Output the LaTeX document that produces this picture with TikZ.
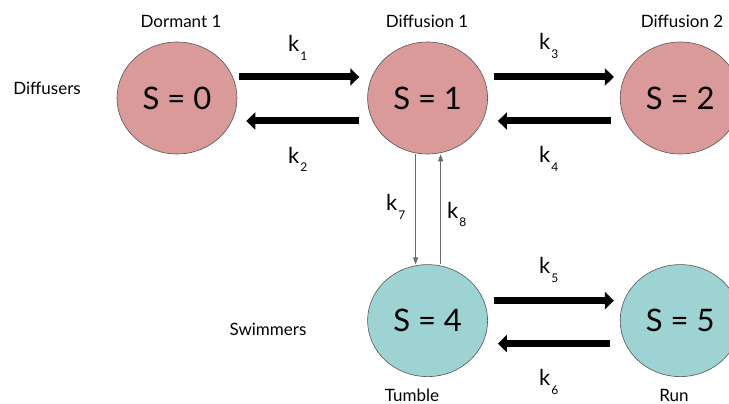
\documentclass[tikz,border=0pt]{standalone}
\usepackage{fontspec}
\setmainfont{Lato}
\usetikzlibrary{arrows.meta,positioning,shapes.geometric}
\definecolor{diffc}{HTML}{DA9A9A}
\definecolor{swimc}{HTML}{9DD3D2}
\definecolor{rim}{HTML}{555555}
\definecolor{mute}{HTML}{6A6A6A}
% rate constant with a dropped subscript
\newcommand{\rate}[1]{k\kern1pt\raisebox{-9pt}{\fontsize{12}{12}\selectfont #1}}
\tikzset{
  state/.style={ellipse,draw=rim,line width=0.6pt,minimum width=120pt,minimum height=112pt,inner sep=0pt,font=\fontsize{31}{31}\selectfont},
  dstate/.style={state,fill=diffc},
  sstate/.style={state,fill=swimc},
  lab/.style={anchor=base,font=\fontsize{17}{17}\selectfont,inner sep=0pt},
  klab/.style={anchor=base west,font=\fontsize{22}{22}\selectfont,inner sep=0pt},
  fat/.style={-{Triangle[length=9pt,width=17pt]},line width=7pt},
  slim/.style={-{Triangle[length=7pt,width=5pt]},draw=mute,line width=0.9pt,fill=mute},
}
\begin{document}
\begin{tikzpicture}[x=1pt,y=-1pt]
\useasboundingbox (0,0) rectangle (729,404);
% states
\node[dstate] (s0) at (177,98) {S = 0};
\node[dstate,right=130pt of s0] (s1) {S = 1};
\node[dstate,right=132pt of s1] (s2) {S = 2};
\node[sstate,below=110pt of s1] (s4) {S = 4};
\node[sstate,right=132pt of s4] (s5) {S = 5};
% group and state names
\node[lab] (t0) at (181,28) {Dormant 1};
\node[lab] (t1) at (427,28) {Diffusion 1};
\node[lab] (t2) at (682,28) {Diffusion 2};
\node[lab] (t4) at (412,401) {Tumble};
\node[lab] (t5) at (674,401) {Run};
\node[lab] (gd) at (47,95) {Diffusers};
\node[lab] (gs) at (268,335) {Swimmers};
% transitions
\draw[fat,shorten <=2pt,shorten >=8pt] ([yshift=21pt]s0.east) -- ([yshift=21pt]s1.west);
\draw[fat,shorten <=8pt,shorten >=9pt] ([yshift=-23pt]s1.west) -- ([yshift=-23pt]s0.east);
\draw[fat,shorten <=6pt,shorten >=6pt] ([yshift=21pt]s1.east) -- ([yshift=21pt]s2.west);
\draw[fat,shorten <=9pt,shorten >=10pt] ([yshift=-23pt]s2.west) -- ([yshift=-23pt]s1.east);
\draw[fat,shorten <=6pt,shorten >=6pt] ([yshift=20pt]s4.east) -- ([yshift=20pt]s5.west);
\draw[fat,shorten <=10pt,shorten >=10pt] ([yshift=-23pt]s5.west) -- ([yshift=-23pt]s4.east);
\draw[slim] ([xshift=-12pt]s1.south) -- ([xshift=-12pt]s4.north);
\draw[slim] ([xshift=13pt]s4.north) -- ([xshift=13pt]s1.south);
% rate labels
\node[klab] (k1) at (288,52) {\rate{1}};
\node[klab] (k2) at (288,163) {\rate{2}};
\node[klab] (k3) at (539,50) {\rate{3}};
\node[klab] (k4) at (539,162) {\rate{4}};
\node[klab] (k5) at (539,273) {\rate{5}};
\node[klab] (k6) at (539,385) {\rate{6}};
\node[klab] (k7) at (386,210) {\rate{7}};
\node[klab] (k8) at (447,218) {\rate{8}};
\end{tikzpicture}
\end{document}
